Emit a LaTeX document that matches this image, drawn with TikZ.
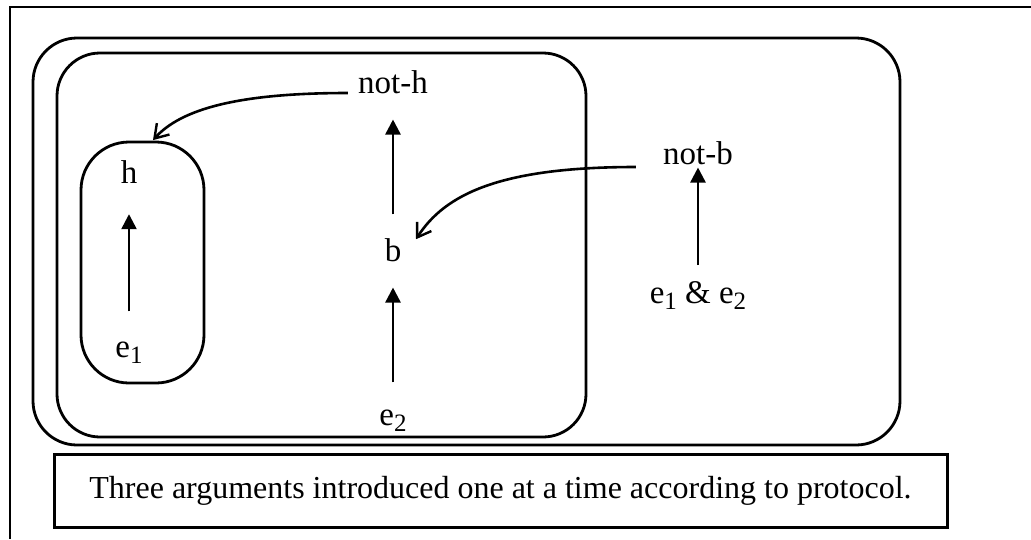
\documentclass[tikz,border=0pt]{standalone}
\usepackage{fontspec}
\setmainfont{Liberation Serif}
\usetikzlibrary{arrows.meta}
\newcommand\mysub[1]{\raisebox{-6pt}{\fontsize{25}{25}\selectfont #1}}
\begin{document}
\begin{tikzpicture}[x=1pt,y=-1pt,
  lbl/.style={font=\fontsize{33}{39}\selectfont, inner sep=0pt, anchor=base},
  rbox/.style={draw, line width=2.8pt, rounded corners=#1, inner sep=0pt},
  frameline/.style={line width=2.6pt},
  varrow/.style={line width=2.5pt, -{Triangle[length=15pt,width=15pt]}},
  carrow/.style={line width=2.6pt, -{Straight Barb[length=13pt,width=17pt,line width=2.4pt]}},
  capbox/.style={draw, line width=3pt, inner sep=0pt, font=\fontsize{32}{38}\selectfont}
]
\useasboundingbox (0,0) rectangle (1031,539);
% page frame (cut at right and bottom)
\draw[frameline] (1031,7) -- (10,7) -- (10,539);
% boxes
\node[rbox=44pt, minimum width=867pt, minimum height=407pt] (outer) at (466.5,241.5) {};
\node[rbox=43pt, minimum width=529pt, minimum height=384pt] (inner) at (321.5,245) {};
\node[rbox=48pt, minimum width=123pt, minimum height=241pt] (hbox) at (142.5,262.5) {};
\node[capbox, minimum width=893pt, minimum height=73pt] (cap) at (500.5,490.5)
  {Three arguments introduced one at a time according to protocol.};
% labels
\node[lbl] (h) at (129,183) {h};
\node[lbl] (e1) at (129,357) {e\mysub{1}};
\node[lbl] (noth) at (393,93) {not-h};
\node[lbl] (b) at (393,261) {b};
\node[lbl] (e2) at (393,425) {e\mysub{2}};
\node[lbl] (notb) at (698,164) {not-b};
\node[lbl] (e12) at (698,303) {e\mysub{1} \& e\mysub{2}};
% vertical arrows
\draw[varrow, shorten <=30pt, shorten >=31pt] (e1) -- (h);
\draw[varrow, shorten <=23.5pt, shorten >=26pt] (b) -- (noth);
\draw[varrow, shorten <=27pt, shorten >=26pt] (e2) -- (b);
\draw[varrow, shorten <=15.7pt, shorten >=3pt] (e12) -- (notb);
% curved arrows
\draw[carrow] ([xshift=-10pt]noth.base west) .. controls +(-110,0) and +(28,-31) .. ([xshift=10.5pt,yshift=0.5pt]hbox.north);
\draw[carrow] ([xshift=-27pt,yshift=-3pt]notb.base west) .. controls +(-136,0) and +(29,-45) .. ([xshift=23pt,yshift=10.5pt]b.center);
\end{tikzpicture}
\end{document}
